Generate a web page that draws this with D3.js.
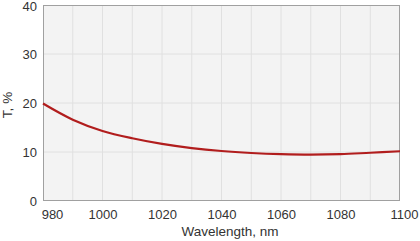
<!DOCTYPE html>
<html>
<head>
<meta charset="utf-8">
<script src="https://cdn.jsdelivr.net/npm/d3@7"></script>
<style>
html,body{margin:0;padding:0;background:#fff;}
svg{display:block;font-family:"Liberation Sans",Arial,sans-serif;}
</style>
</head>
<body>
<svg id="chart" width="420" height="241"></svg>
<script>
const wavelengths = [980, 990, 1000, 1010, 1020, 1030, 1040, 1050, 1060, 1070, 1080, 1090, 1100];
const transmission = [19.9, 16.6, 14.3, 12.8, 11.65, 10.8, 10.2, 9.8, 9.55, 9.45, 9.55, 9.85, 10.15];
const xTicks = [980, 1000, 1020, 1040, 1060, 1080, 1100];
const xGrid = [990, 1000, 1010, 1020, 1030, 1040, 1050, 1060, 1070, 1080, 1090];
const yTicks = [0, 10, 20, 30, 40];
const xTitle = "Wavelength, nm";
const yTitle = "T, %";

const svg = d3.select("#chart");
const L = 43, R = 400, T = 5, B = 201;
const x = d3.scaleLinear().domain([980, 1100]).range([L, R]);
const y = d3.scaleLinear().domain([0, 40]).range([B, T]);

svg.append("rect").attr("x", L).attr("y", T).attr("width", R - L).attr("height", B - T)
  .attr("fill", "#f3f3f3");

svg.append("g").selectAll("line").data(xGrid).join("line")
  .attr("x1", d => x(d)).attr("x2", d => x(d)).attr("y1", T).attr("y2", B)
  .attr("stroke", "#e0e0e0").attr("stroke-width", 1);
svg.append("g").selectAll("line").data(yTicks.slice(1, -1)).join("line")
  .attr("x1", L).attr("x2", R).attr("y1", d => y(d)).attr("y2", d => y(d))
  .attr("stroke", "#e0e0e0").attr("stroke-width", 1);

svg.append("rect").attr("x", L + 0.5).attr("y", T + 0.5).attr("width", R - L - 1).attr("height", B - T - 1)
  .attr("fill", "none").attr("stroke", "#a0a0a0").attr("stroke-width", 1);

const xAxis = svg.append("g").attr("transform", `translate(0,${B})`)
  .call(d3.axisBottom(x).tickValues(xTicks).tickSize(0).tickPadding(9).tickFormat(d3.format("d")));
xAxis.select(".domain").remove();
xAxis.selectAll("text").attr("font-size", 13).attr("fill", "#333").attr("font-family", "Liberation Sans, Arial, sans-serif")
  .attr("dx", d => d === 980 ? 9 : d === 1100 ? 4 : 0);

const yAxis = svg.append("g").attr("transform", `translate(${L},0)`)
  .call(d3.axisLeft(y).tickValues(yTicks).tickSize(0).tickPadding(6).tickFormat(d3.format("d")));
yAxis.select(".domain").remove();
yAxis.selectAll("text").attr("font-size", 13).attr("fill", "#333").attr("font-family", "Liberation Sans, Arial, sans-serif")
  .attr("y", d => d === 40 ? 1.5 : 0);

const line = d3.line().x((d, i) => x(wavelengths[i])).y(d => y(d)).curve(d3.curveCatmullRom.alpha(0.5));
svg.append("path").datum(transmission).attr("d", line)
  .attr("fill", "none").attr("stroke", "#b11d1d").attr("stroke-width", 2.2);

svg.append("text").attr("x", 230).attr("y", 236).attr("text-anchor", "middle")
  .attr("font-size", 13.5).attr("fill", "#333").text(xTitle);
svg.append("text").attr("transform", "translate(12,105) rotate(-90)").attr("text-anchor", "middle")
  .attr("font-size", 13.5).attr("fill", "#333").text(yTitle);
</script>
</body>
</html>
